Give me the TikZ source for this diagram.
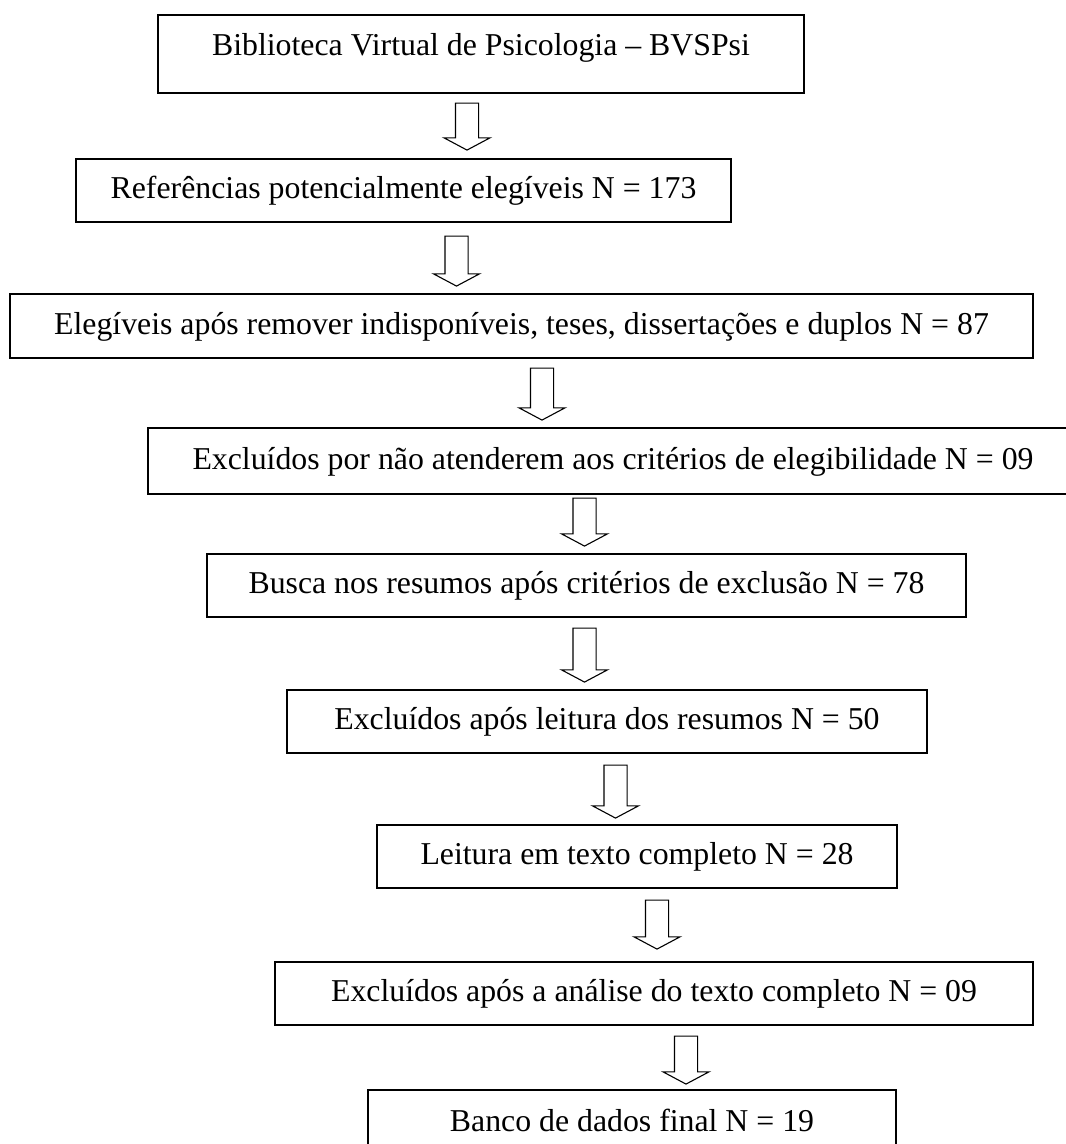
\documentclass[tikz,border=0pt]{standalone}
\usepackage{fontspec}
\setmainfont{Liberation Serif}
\usetikzlibrary{shapes.arrows}
\tikzset{
  box/.style={draw, line width=1.2pt, inner sep=0pt, text height=24pt, text depth=8pt,
    font=\fontsize{31.8}{38}\selectfont},
  dnarrow/.style={single arrow, draw, line width=1.1pt, inner sep=11pt,
    minimum width=45pt, single arrow head extend=11.5pt, single arrow tip angle=124,
    shape border rotate=270}
}
\begin{document}
\begin{tikzpicture}[x=1pt,y=1pt]
\clip (0,0) rectangle (1066,-1144);
\fill[white] (0,0) rectangle (1066,-1144);
% boxes
\node[box, minimum width=646pt, minimum height=78pt, text depth=22pt] (b1) at (481,-54) {Biblioteca Virtual de Psicologia – BVSPsi};
\node[box, minimum width=655pt, minimum height=63pt] (b2) at (403.5,-190.5) {Referências potencialmente elegíveis N = 173};
\node[box, minimum width=1023pt, minimum height=64pt] (b3) at (521.5,-326) {Elegíveis após remover indisponíveis, teses, dissertações e duplos N = 87};
\node[box, minimum width=930pt, minimum height=66pt] (b4) at (613,-461) {Excluídos por não atenderem aos critérios de elegibilidade N = 09};
\node[box, minimum width=759pt, minimum height=63pt] (b5) at (586.5,-585.5) {Busca nos resumos após critérios de exclusão N = 78};
\node[box, minimum width=640pt, minimum height=63pt] (b6) at (607,-721.5) {Excluídos após leitura dos resumos N = 50};
\node[box, minimum width=520pt, minimum height=63pt] (b7) at (637,-856.5) {Leitura em texto completo N = 28};
\node[box, minimum width=758pt, minimum height=63pt] (b8) at (654,-993.5) {Excluídos após a análise do texto completo N = 09};
\node[box, minimum width=528pt, minimum height=66pt] (b9) at (632,-1123) {Banco de dados final N = 19};
% arrows
\node[dnarrow, minimum height=47pt] (a1) at (467,-123.5) {};
\node[dnarrow, minimum height=50pt] (a2) at (456.5,-258) {};
\node[dnarrow, minimum height=52pt] (a3) at (542,-391) {};
\node[dnarrow, minimum height=48pt] (a4) at (584.5,-519) {};
\node[dnarrow, minimum height=54pt] (a5) at (584.5,-652) {};
\node[dnarrow, minimum height=53pt] (a6) at (615.5,-788.5) {};
\node[dnarrow, minimum height=49pt] (a7) at (657,-921.5) {};
\node[dnarrow, minimum height=48pt] (a8) at (686,-1057) {};
\end{tikzpicture}
\end{document}
